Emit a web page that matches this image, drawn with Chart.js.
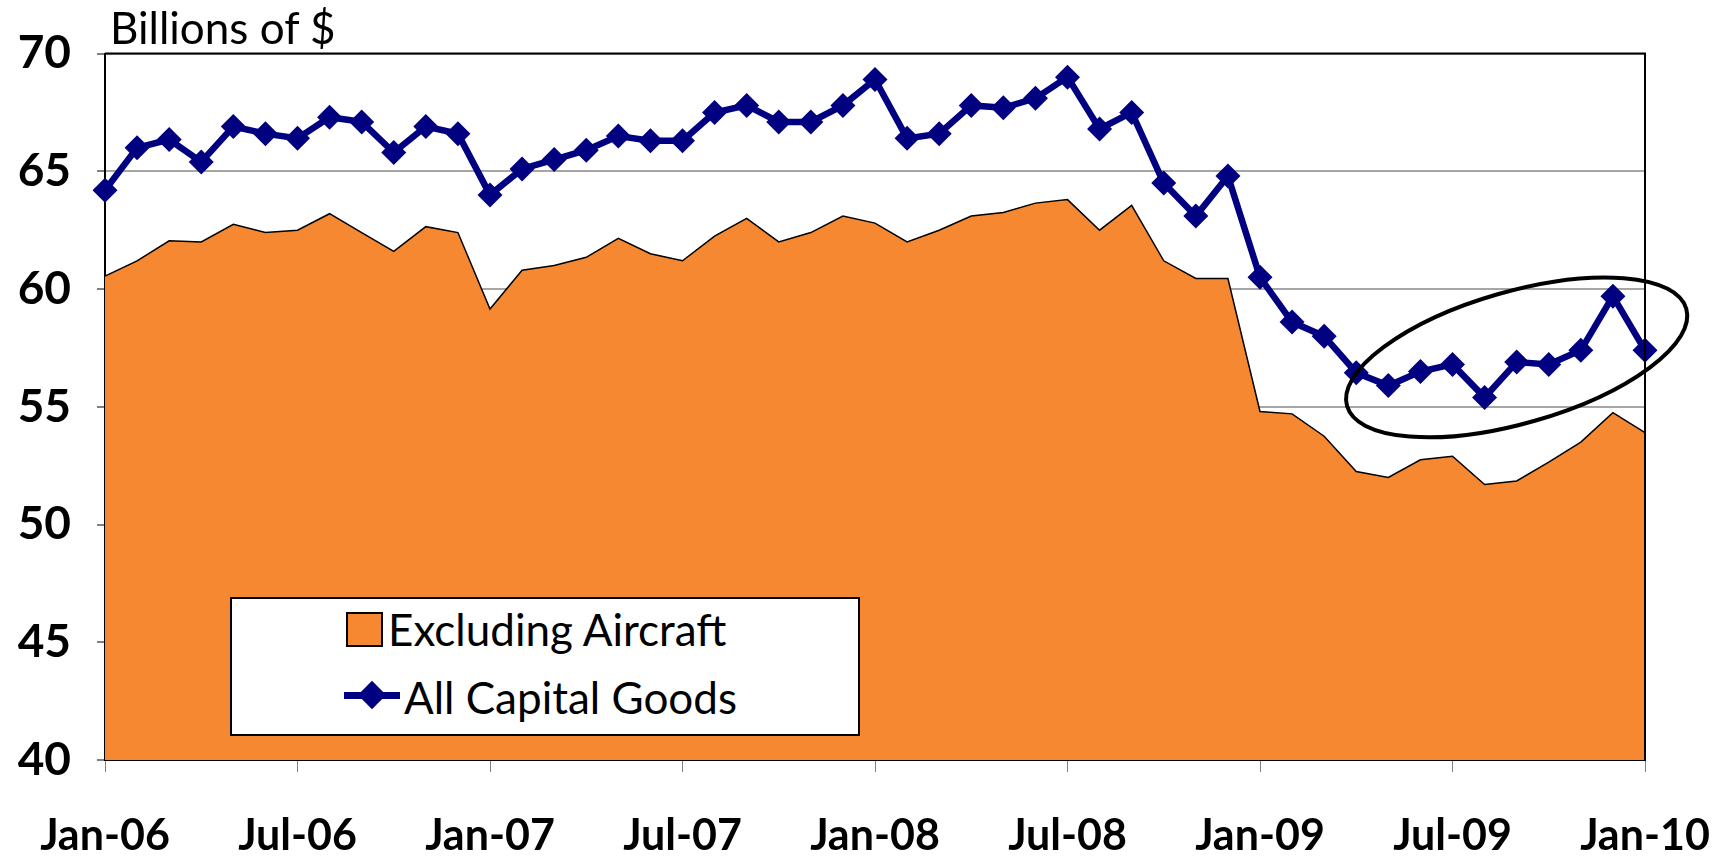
<!DOCTYPE html>
<html>
<head>
<meta charset="utf-8">
<script src="https://cdn.jsdelivr.net/npm/chart.js@4"></script>
<style>
  html, body { margin: 0; padding: 0; background: #fff; }
  #wrap { position: relative; width: 1726px; height: 858px; font-family: Lato, "Open Sans", sans-serif; }
  #unit { position: absolute; left: 110px; top: 0px; font-size: 44px; color: #000; line-height: 54px; }
  #legend {
    position: absolute; left: 230px; top: 597px; width: 626px; height: 135px;
    background: #fff; border: 2px solid #000;
  }
  .row { position: absolute; left: 114px; font-size: 44px; color: #000; line-height: 48px; }
  .swatch { position: absolute; left: 0; top: 7px; width: 33px; height: 31px; background: #f68832; border: 2px solid #000; }
  .txt { position: absolute; left: 42px; top: 0; white-space: nowrap; }
  .lineKey { position: absolute; left: -2px; top: 19px; width: 56px; height: 7px; background: #000080; }
  .dia { position: absolute; left: 16px; top: 12px; width: 20px; height: 20px; background: #000080; transform: rotate(45deg); }
</style>
</head>
<body>
<div id="wrap">
  <canvas id="c" width="1726" height="858"></canvas>
  <div id="unit">Billions of $</div>
  <div id="legend">
    <div class="row" style="top:6px"><div class="swatch"></div><div class="txt">Excluding Aircraft</div></div>
    <div class="row" style="top:74px"><div class="lineKey"></div><div class="dia"></div><div class="txt" style="left:58px">All Capital Goods</div></div>
  </div>
</div>
<script>
const months = [
  "Jan-06","Feb-06","Mar-06","Apr-06","May-06","Jun-06","Jul-06","Aug-06","Sep-06","Oct-06","Nov-06","Dec-06",
  "Jan-07","Feb-07","Mar-07","Apr-07","May-07","Jun-07","Jul-07","Aug-07","Sep-07","Oct-07","Nov-07","Dec-07",
  "Jan-08","Feb-08","Mar-08","Apr-08","May-08","Jun-08","Jul-08","Aug-08","Sep-08","Oct-08","Nov-08","Dec-08",
  "Jan-09","Feb-09","Mar-09","Apr-09","May-09","Jun-09","Jul-09","Aug-09","Sep-09","Oct-09","Nov-09","Dec-09",
  "Jan-10"
];
const tickLabels = ["Jan-06", "Jul-06", "Jan-07", "Jul-07", "Jan-08", "Jul-08", "Jan-09", "Jul-09", "Jan-10"];

const allCapitalGoods = [
  64.2, 66.0, 66.35, 65.4, 66.9, 66.6, 66.4, 67.3, 67.1, 65.8, 66.9, 66.6,
  64.0, 65.1, 65.5, 65.9, 66.5, 66.3, 66.3, 67.5, 67.8, 67.1, 67.1, 67.8,
  68.9, 66.4, 66.6, 67.8, 67.7, 68.1, 69.0, 66.8, 67.5, 64.5, 63.1, 64.8,
  60.5, 58.6, 58.0, 56.45, 55.9, 56.5, 56.8, 55.4, 56.9, 56.8, 57.4, 59.7,
  57.4
];
const excludingAircraft = [
  60.55, 61.2, 62.05, 62.0, 62.75, 62.4, 62.5, 63.2, 62.4, 61.6, 62.65, 62.4,
  59.15, 60.8, 61.0, 61.35, 62.15, 61.5, 61.2, 62.25, 63.0, 62.0, 62.4, 63.1,
  62.8, 62.0, 62.5, 63.1, 63.25, 63.65, 63.8, 62.5, 63.55, 61.2, 60.45, 60.45,
  54.8, 54.7, 53.75, 52.25, 52.0, 52.75, 52.9, 51.7, 51.85, 52.65, 53.5, 54.75,
  53.9
];

// circled region: recent months, in data units
const ring = { month: 44, value: 57.1, halfMonths: 5.5, halfValue: 2.8, angle: -16 };

const frame = {
  id: "frame",
  afterDatasetsDraw(c) {
    const { ctx, chartArea: a } = c;
    ctx.save();
    ctx.strokeStyle = "#000";
    ctx.lineWidth = 2;
    ctx.beginPath();
    ctx.moveTo(a.left, a.top);
    ctx.lineTo(a.right, a.top);
    ctx.lineTo(a.right, a.bottom);
    ctx.stroke();
    ctx.restore();
  },
};

const ellipse = {
  id: "ellipse",
  afterDraw(c) {
    const { ctx } = c;
    const x = c.scales.x, y = c.scales.y;
    const cx = x.getPixelForValue(ring.month);
    const cy = y.getPixelForValue(ring.value);
    const rx = Math.abs(x.getPixelForValue(ring.month + ring.halfMonths) - cx);
    const ry = Math.abs(y.getPixelForValue(ring.value + ring.halfValue) - cy);
    ctx.save();
    ctx.strokeStyle = "#000";
    ctx.lineWidth = 4;
    ctx.beginPath();
    ctx.ellipse(cx, cy, rx, ry, ring.angle * Math.PI / 180, 0, Math.PI * 2);
    ctx.stroke();
    ctx.restore();
  },
};

new Chart(document.getElementById("c"), {
  type: "line",
  data: {
    labels: months,
    datasets: [
      {
        label: "All Capital Goods",
        data: allCapitalGoods,
        order: 0,
        borderColor: "#000080",
        borderWidth: 6.5,
        pointStyle: "rectRot",
        pointRadius: 12.5,
        pointBackgroundColor: "#000080",
        pointBorderWidth: 0,
        fill: false,
        tension: 0,
      },
      {
        label: "Excluding Aircraft",
        data: excludingAircraft,
        order: 1,
        borderColor: "#000",
        borderWidth: 1.5,
        backgroundColor: "#f68832",
        pointRadius: 0,
        fill: "start",
        tension: 0,
      },
    ],
  },
  options: {
    responsive: false,
    animation: false,
    layout: { padding: { top: 53, right: 81, left: 0, bottom: 0 } },
    plugins: { legend: { display: false }, tooltip: { enabled: false } },
    scales: {
      x: {
        type: "category",
        offset: false,
        afterFit: (s) => { s.height = 98; s.paddingLeft = 0; s.paddingRight = 0; },
        border: { color: "#000", width: 2 },
        grid: {
          drawOnChartArea: false,
          tickLength: 12,
          color: (ctx) => (tickLabels.includes(months[ctx.index]) ? "#808080" : "rgba(0,0,0,0)"),
        },
        ticks: {
          autoSkip: false,
          maxRotation: 0,
          padding: 38,
          color: "#000",
          font: { family: "Lato", weight: "bold", size: 43 },
          callback: (v, i) => (tickLabels.includes(months[i]) ? months[i] : ""),
        },
      },
      y: {
        min: 40,
        max: 70,
        afterFit: (s) => { s.width = 105; },
        border: { color: "#000", width: 2 },
        grid: { color: "#a6a6a6", lineWidth: 2, tickLength: 8, tickColor: "#808080" },
        ticks: {
          stepSize: 5,
          padding: 26,
          color: "#000",
          font: { family: "Lato", weight: "bold", size: 46 },
        },
      },
    },
  },
  plugins: [frame, ellipse],
});
</script>
</body>
</html>
